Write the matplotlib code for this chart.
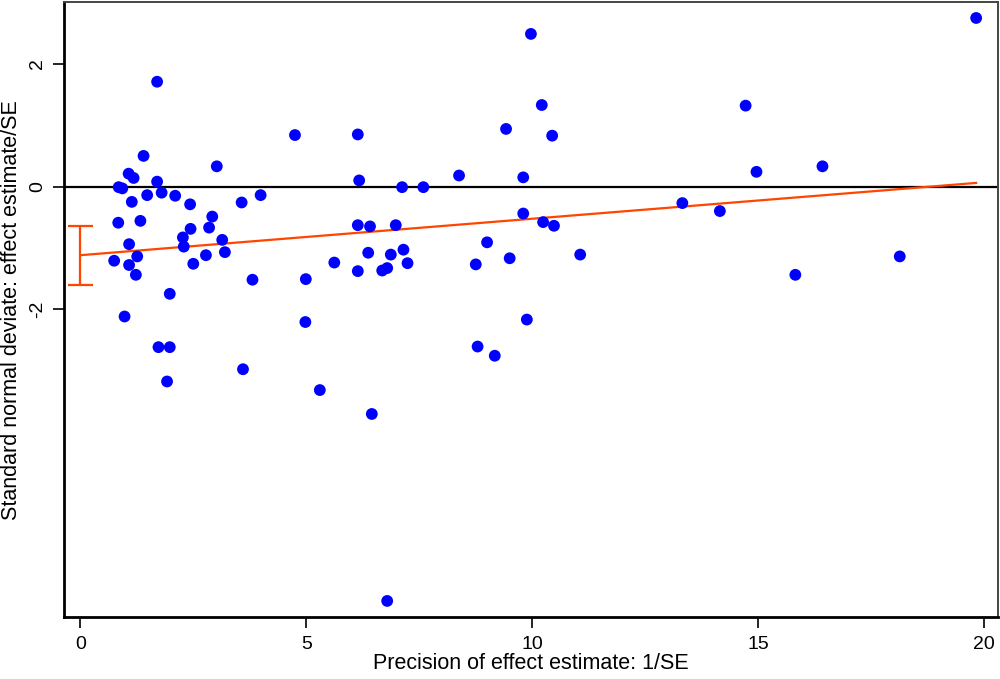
import matplotlib
matplotlib.use("Agg")
import matplotlib.pyplot as plt
import numpy as np

plt.rcParams['font.family'] = ['Liberation Sans', 'DejaVu Sans']

# Precision (1/SE)
precision = [1.70, 4.75, 1.40, 3.02, 1.07, 1.18, 1.70, 0.85, 0.93, 1.48,
             1.80, 2.10, 1.14, 2.43, 3.57, 3.99, 2.92, 0.84, 1.33, 2.44,
             2.85, 2.27, 3.14, 1.08, 2.29, 3.20, 2.78, 1.26, 0.75, 1.08,
             2.50, 1.23, 3.81, 4.99, 1.98, 0.98, 4.98, 1.73, 1.98, 3.60,
             1.92, 6.14, 10.21, 9.42, 10.44, 6.17, 7.12, 7.59, 8.38, 9.80,
             9.80, 10.24, 10.48, 6.14, 6.41, 6.98, 9.00, 6.37, 6.87, 7.15,
             5.62, 7.24, 6.14, 6.68, 6.79, 8.75, 9.50, 11.06, 9.88, 8.79,
             9.17, 5.30, 6.45, 6.79, 19.82, 14.72, 14.96, 16.42, 13.32, 14.15,
             15.82, 18.13, 9.97]
# Standard normal deviate (effect/SE)
snd = [1.71, 0.84, 0.50, 0.33, 0.21, 0.14, 0.08, -0.01, -0.03, -0.14,
       -0.10, -0.15, -0.25, -0.29, -0.26, -0.14, -0.49, -0.59, -0.56, -0.69,
       -0.67, -0.83, -0.87, -0.94, -0.98, -1.07, -1.12, -1.14, -1.21, -1.28,
       -1.26, -1.44, -1.52, -1.51, -1.75, -2.12, -2.21, -2.62, -2.62, -2.98,
       -3.18, 0.85, 1.33, 0.94, 0.83, 0.10, -0.01, -0.01, 0.18, 0.15,
       -0.44, -0.58, -0.64, -0.63, -0.65, -0.63, -0.91, -1.08, -1.11, -1.03,
       -1.24, -1.25, -1.38, -1.37, -1.33, -1.27, -1.17, -1.11, -2.17, -2.61,
       -2.76, -3.32, -3.71, -6.76, 2.75, 1.32, 0.24, 0.33, -0.27, -0.40,
       -1.44, -1.14, 2.49]

# Egger regression
intercept = -1.12
slope = 0.0595
intercept_ci = [-1.61, -0.64]

xticks = [0, 5, 10, 15, 20]
yticks = [-2, 0, 2]

fig = plt.figure(figsize=(10, 6.79), dpi=100)
ax = fig.add_axes([0.064, 0.0906, 0.9343, 0.9064])

x = np.array(precision)
y = np.array(snd)

ax.axhline(0, color='black', lw=1.6, zorder=1)
xl = np.array([0, x.max()])
ax.plot(xl, intercept + slope * xl, color='#FF4500', lw=1.6, zorder=2)
ax.errorbar([0], [intercept], yerr=[[intercept - intercept_ci[0]], [intercept_ci[1] - intercept]],
            fmt='none', ecolor='#FF4500', elinewidth=1.6, capsize=9, capthick=1.6, zorder=2)
ax.scatter(x, y, s=72, color='#0000FF', edgecolors='none', zorder=3)

ax.set_xlim(-0.36, 20.31)
ax.set_ylim(-7.03, 3.01)
ax.set_xticks(xticks)
ax.set_yticks(yticks)
ax.set_yticklabels([str(v) for v in yticks], rotation=90, va='center')
ax.tick_params(axis='both', direction='out', length=8, width=1.2, labelsize=14)
ax.tick_params(axis='x', pad=5)
ax.tick_params(axis='y', pad=5)

for s in ['left', 'bottom']:
    ax.spines[s].set_linewidth(2.0)
    ax.spines[s].set_color('black')
for s in ['top', 'right']:
    ax.spines[s].set_linewidth(1.4)
    ax.spines[s].set_color('#444444')

ax.set_xlabel('Precision of effect estimate: 1/SE', fontsize=15.5, labelpad=0)
ax.set_ylabel('Standard normal deviate: effect estimate/SE', fontsize=15.5, labelpad=5)

fig.savefig('out.png', dpi=100)
